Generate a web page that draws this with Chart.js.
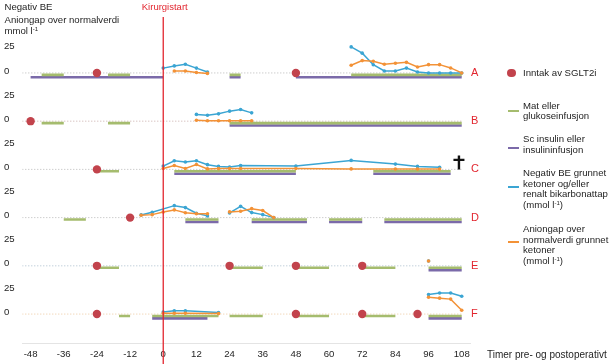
<!DOCTYPE html>
<html>
<head>
<meta charset="utf-8">
<script src="https://cdn.jsdelivr.net/npm/chart.js@4.4.1/dist/chart.umd.min.js"></script>
<style>
  body { margin: 0; background: #fff; font-family: "Liberation Sans", Arial, sans-serif; }
  #wrap { position: relative; width: 614px; height: 364px; overflow: hidden; }
  #chart { position: absolute; left: 0; top: 0; }
  .txt { position: absolute; font-size: 9.6px; line-height: 10.7px; color: #1e1e1e; white-space: nowrap; }
  .txt sup { font-size: 6px; vertical-align: 3px; line-height: 0; }
  .mark { position: absolute; }
</style>
</head>
<body>
<div id="wrap">
  <canvas id="chart" width="614" height="364"></canvas>

  <!-- y title -->
  <div class="txt" style="left:4.5px; top:1.5px;">Negativ BE</div>
  <div class="txt" style="left:4.5px; top:14.5px;">Aniongap over normalverdi</div>
  <div class="txt" style="left:4.5px; top:25.5px;">mmol l<sup>-1</sup></div>

  <!-- legend -->
  <div class="mark" style="left:507px; top:68.5px; width:8.5px; height:8.5px; border-radius:50%; background:#c2434c;"></div>
  <div class="txt" style="left:523px; top:67.5px;">Inntak av SGLT2i</div>

  <div class="mark" style="left:508px; top:110px; width:11px; height:2px; background:#a5bc6e;"></div>
  <div class="txt" style="left:523px; top:100.5px;">Mat eller<br>glukoseinfusjon</div>

  <div class="mark" style="left:508px; top:147px; width:11px; height:2px; background:#7b6aa9;"></div>
  <div class="txt" style="left:523px; top:134px;">Sc insulin eller<br>insulininfusjon</div>

  <div class="mark" style="left:508px; top:185.5px; width:11px; height:2px; background:#3ba5d3;"></div>
  <div class="txt" style="left:523px; top:168px;">Negativ BE grunnet<br>ketoner og/eller<br>renalt bikarbonattap<br>(mmol l<sup>-1</sup>)</div>

  <div class="mark" style="left:508px; top:241px; width:11px; height:2px; background:#f39237;"></div>
  <div class="txt" style="left:523px; top:224px;">Aniongap over<br>normalverdi grunnet<br>ketoner<br>(mmol l<sup>-1</sup>)</div>

  <!-- x title -->
  <div class="txt" style="left:487px; top:349.5px; font-size:10px;">Timer pre- og postoperativt</div>
</div>

<script>
// --- tick labels ---
const hourTicks = [-48, -36, -24, -12, 0, 12, 24, 36, 48, 60, 72, 84, 96, 108];
const yTickLabels = [0, 25];
const patients = ['A', 'B', 'C', 'D', 'E', 'F'];

// --- data per patient: [timer, mmol/l], null = brudd i linjen ---
// A
const beA = [[0, 5], [4, 7.3], [8, 9], [12, 5], [16, 1], null,
             [68, 27], [72, 20.5], [76, 8.5], [80, 2], [84, 2], [88, 5], [92, 1], [96, 0], [100, 0], [104, 0], [108, 0]];
const agA = [[4, 2], [8, 2], [12, 0.5], [16, -0.5], null,
             [68, 8], [72, 12.8], [76, 12.1], [80, 9], [84, 10], [88, 11], [92, 6.2], [96, 8.6], [100, 8.6], [104, 5.2], [108, 0]];
const foodA = [[-44, -36], [-20, -12], [24, 28], [68, 108]];
const insulinA = [[-48, 0], [24, 28], [48, 108]];
const sglt2A = [-24, 48];

// B
const beB = [[12, 7], [16, 6.2], [20, 7.6], [24, 10.4], [28, 12.1], [32, 8.6]];
const agB = [[12, 1], [16, 0.5], [20, 0.5], [24, 0.5], [28, 0.5], [32, 0.5]];
const foodB = [[-44, -36], [-20, -12], [24, 108]];
const insulinB = [[24, 108]];
const sglt2B = [-48];

// C
const beC = [[0, 3.4], [4, 9], [8, 7.6], [12, 9], [16, 4.9], [20, 3.1], [24, 2.4], [28, 4.1],
             [48, 3.4], [68, 9.3], [84, 5.5], [92, 3.1], [100, 2.1]];
const agC = [[0, 1], [4, 4], [8, 1], [12, 5], [16, 0.5], [20, 0.8], [24, 0.8], [28, 1],
             [48, 1], [68, 0.5], [84, 0.3], [92, 0.3], [100, 0.3]];
const foodC = [[-24, -16], [4, 48], [76, 104]];
const insulinC = [[4, 48], [76, 104]];
const sglt2C = [-24];

// D
const beD = [[-8, 2.8], [-4, 5.6], [4, 12.4], [8, 10.4], [12, 4.6], [16, 1.8], null,
             [24, 4.9], [28, 11.7], [32, 5.2], [36, 3.1], [40, 0]];
const agD = [[-8, 2.5], [-4, 3.1], [0, 5.8], [4, 8], [8, 5], [12, 4], [16, 4], null,
             [24, 5.9], [28, 6.6], [32, 9.3], [36, 7.3], [40, 0]];
const foodD = [[-36, -28], [8, 20], [32, 52], [60, 72], [80, 108]];
const insulinD = [[8, 20], [32, 52], [60, 72], [80, 108]];
const sglt2D = [-12];

// E
const beE = [[96, 5]];
const agE = [[96, 5]];
const foodE = [[-24, -16], [24, 36], [48, 60], [72, 84], [96, 108]];
const insulinE = [[96, 108]];
const sglt2E = [-24, 24, 48, 72];

// F
const beF = [[0, 2.1], [4, 3.4], [8, 3.4], [20, 1.7], null,
             [96, 20.2], [100, 21.8], [104, 21.8], [108, 18.5]];
const agF = [[0, 0.8], [4, 0.8], [8, 0.8], [20, 0.5], null,
             [96, 17.5], [100, 16.5], [104, 15.5], [108, 4]];
const foodF = [[-16, -12], [-4, 20], [24, 36], [48, 60], [72, 84], [96, 108]];
const insulinF = [[-4, 16], [96, 108]];
const sglt2F = [-24, 48, 72, 92];

const series = {
    A: { be: beA, ag: agA, food: foodA, ins: insulinA, sglt2: sglt2A },
    B: { be: beB, ag: agB, food: foodB, ins: insulinB, sglt2: sglt2B },
    C: { be: beC, ag: agC, food: foodC, ins: insulinC, sglt2: sglt2C },
    D: { be: beD, ag: agD, food: foodD, ins: insulinD, sglt2: sglt2D },
    E: { be: beE, ag: agE, food: foodE, ins: insulinE, sglt2: sglt2E },
    F: { be: beF, ag: agF, food: foodF, ins: insulinF, sglt2: sglt2F }
};

// --- styling ---
const ROW = 50;          // avstand mellom pasientene (mmol/l-enheter)
const X_MIN = -51, X_MAX = 111;
const BLUE = '#3ba5d3', ORANGE = '#f39237', GREEN = '#a5bc6e', PURPLE = '#7b6aa9', DOT = '#c2434c';
const RED = '#e2262f';
const baseColors = { A: '#b8b8b8', B: '#c8aaa8', C: '#b8b8b8', D: '#b8b8b8', E: '#a8bccc', F: '#ecc89c' };

const rowOffset = p => (patients.length - 1 - patients.indexOf(p)) * ROW;

function toPoints(list, off) {
    let lastX = 0;
    return list.map(pt => {
        if (!pt) return { x: lastX, y: null };
        lastX = pt[0];
        return { x: pt[0], y: off + pt[1] };
    });
}

function toBars(intervals, y) {
    return intervals.flatMap(([a, b]) => [{ x: a, y: y }, { x: b, y: y }, { x: b, y: null }]);
}

const datasets = [];
patients.forEach(p => {
    const s = series[p];
    const off = rowOffset(p);

    datasets.push({
        data: [{ x: X_MIN, y: off }, { x: 108, y: off }],
        borderColor: baseColors[p], borderWidth: 1, borderDash: [1, 2],
        pointRadius: 0, order: 6
    });
    datasets.push({
        data: toBars(s.ins, off - 4.5),
        borderColor: PURPLE, borderWidth: 2.6, pointRadius: 0, order: 5
    });
    datasets.push({
        data: toBars(s.food, off - 2),
        borderColor: GREEN, borderWidth: 2.6, pointRadius: 0, order: 4
    });
    datasets.push({
        data: toPoints(s.be, off),
        borderColor: BLUE, backgroundColor: BLUE, borderWidth: 1.5,
        pointRadius: 1.8, pointBorderWidth: 0, order: 2
    });
    datasets.push({
        data: toPoints(s.ag, off),
        borderColor: ORANGE, backgroundColor: ORANGE, borderWidth: 1.5,
        pointRadius: 1.8, pointBorderWidth: 0, order: 1
    });
    datasets.push({
        data: s.sglt2.map(h => ({ x: h, y: off })),
        showLine: false, pointRadius: 4.2, pointBorderWidth: 0,
        backgroundColor: DOT, borderColor: DOT, order: 0
    });
});

// --- Kirurgistart, pasientbokstaver og kors ---
const annotations = {
    id: 'annotations',
    afterDatasetsDraw(chart) {
        const { ctx, chartArea, scales: { x, y } } = chart;
        ctx.save();

        // Kirurgistart
        const x0 = x.getPixelForValue(0);
        ctx.strokeStyle = RED;
        ctx.lineWidth = 1.3;
        ctx.beginPath();
        ctx.moveTo(x0, chartArea.top);
        ctx.lineTo(x0, chart.height);
        ctx.stroke();
        ctx.fillStyle = RED;
        ctx.font = '9.5px "Liberation Sans", Arial, sans-serif';
        ctx.textAlign = 'center';
        ctx.textBaseline = 'middle';
        ctx.fillText('Kirurgistart', x0 + 1.5, 7);

        // A-F
        ctx.font = '11px "Liberation Sans", Arial, sans-serif';
        ctx.textAlign = 'left';
        patients.forEach(p => {
            ctx.fillText(p, chartArea.right + 1, y.getPixelForValue(rowOffset(p)));
        });

        // kors ved pasient C
        const cx = x.getPixelForValue(107);
        const cy = y.getPixelForValue(rowOffset('C'));
        ctx.strokeStyle = '#111';
        ctx.lineWidth = 2.4;
        ctx.beginPath();
        ctx.moveTo(cx, cy - 14);
        ctx.lineTo(cx, cy);
        ctx.moveTo(cx - 5.5, cy - 9.5);
        ctx.lineTo(cx + 5.5, cy - 9.5);
        ctx.stroke();

        ctx.restore();
    }
};

const tickFont = { family: '"Liberation Sans", Arial, sans-serif', size: 9.6 };

new Chart(document.getElementById('chart'), {
    type: 'line',
    data: { datasets: datasets },
    plugins: [annotations],
    options: {
        responsive: false,
        animation: false,
        devicePixelRatio: 1,
        layout: { padding: { left: 4, right: 144, top: 17, bottom: 0 } },
        elements: { line: { tension: 0 } },
        plugins: { legend: { display: false }, tooltip: { enabled: false } },
        scales: {
            x: {
                type: 'linear',
                min: X_MIN, max: X_MAX,
                grid: { display: false, drawTicks: false },
                border: { display: true, color: '#e4e4e4', width: 1 },
                ticks: { autoSkip: false, maxRotation: 0, padding: 6, color: '#1e1e1e', font: tickFont },
                afterBuildTicks: scale => { scale.ticks = hourTicks.map(v => ({ value: v })); },
                afterFit: scale => { scale.height = 21; }
            },
            y: {
                min: -30, max: 308,
                grid: { display: false, drawTicks: false },
                border: { display: false },
                ticks: {
                    autoSkip: false, crossAlign: 'far', padding: 0, labelOffset: -2,
                    color: '#1e1e1e', font: tickFont,
                    callback: v => String(((v % ROW) + ROW) % ROW)
                },
                afterBuildTicks: scale => {
                    scale.ticks = patients.flatMap(p => yTickLabels.map(t => ({ value: rowOffset(p) + t })));
                },
                afterFit: scale => { scale.width = 18.3; }
            }
        }
    }
});
</script>
</body>
</html>
